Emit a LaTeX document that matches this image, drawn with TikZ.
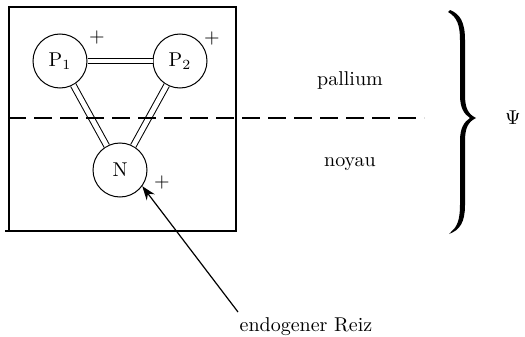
\documentclass[tikz,border=0pt]{standalone}
\usetikzlibrary{arrows.meta}
\begin{document}
\begin{tikzpicture}[x=0.5pt,y=-0.5pt,
  neuron/.style={draw,circle,line width=0.5pt,minimum size=27pt,inner sep=0pt,font=\normalsize},
  link/.style={double,double distance=2.4pt,line width=0.5pt},
  lbl/.style={font=\normalsize,inner sep=0pt}]
\useasboundingbox (0,0) rectangle (525,337);
% box
\draw[line width=0.6pt] (9,7) rectangle (236,231);
\draw[line width=0.6pt] (5,231) -- (9,231);
% neurons
\node[neuron] (P1) at (60,61) {$\mathrm{P}_1$};
\node[neuron] (P2) at (180,61) {$\mathrm{P}_2$};
\node[neuron] (N) at (120,170) {N};
\draw[link] (P1) -- (P2);
\draw[link] (P1) -- (N);
\draw[link] (P2) -- (N);
% plus signs
\node[lbl] (pp1) at (97,37) {+};
\node[lbl] (pp2) at (212,38) {+};
\node[lbl] (pn) at (162,182) {+};
% dashed divider
\coordinate (d1) at (8,118);
\coordinate (d2) at (424,118);
\draw[line width=0.6pt,dash pattern=on 9pt off 4pt] (d1) -- (d2);
% region labels
\node[lbl] (pal) at (350,80) {pallium};
\node[lbl] (noy) at (350,164) {noyau};
% brace
\path[fill=black]
  (450,10) .. controls (460,14) and (465,22) .. (465,40)
  -- (465,95) .. controls (465,108) and (468,114) .. (476,118)
  .. controls (468,122) and (465,128) .. (465,141)
  -- (465,205) .. controls (465,222) and (460,230) .. (449,234)
  -- (451,232) .. controls (457,227) and (460,220) .. (460,205)
  -- (460,141) .. controls (460,128) and (464,122) .. (470,118)
  .. controls (464,114) and (460,108) .. (460,95)
  -- (460,40) .. controls (460,25) and (457,17) .. (448,12) -- cycle;
\node[lbl] (psi) at (513,118) {$\Psi$};
% stimulus arrow
\node[lbl] (reiz) at (306,327) {endogener Reiz};
\coordinate (a) at (238,312);
\draw[line width=0.6pt,-{Stealth[length=7pt,width=5pt]}] (a) -- (N.-36);
\end{tikzpicture}
\end{document}
